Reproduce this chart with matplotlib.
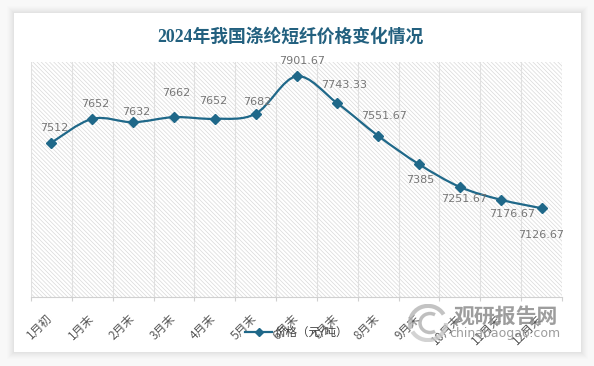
import matplotlib
matplotlib.use('Agg')
import matplotlib.pyplot as plt
from matplotlib.patches import Rectangle, PathPatch, Arc
from matplotlib.path import Path
from matplotlib.lines import Line2D
from matplotlib.transforms import ScaledTranslation
import numpy as np

plt.rcParams['font.family'] = ['Noto Sans CJK SC', 'DejaVu Sans']
plt.rcParams['hatch.linewidth'] = 0.5

# 数据
months = ['1月初', '1月末', '2月末', '3月末', '4月末', '5月末', '6月末',
          '7月末', '8月末', '9月末', '10月末', '11月末', '12月末']
price = [7512, 7652, 7632, 7662, 7652, 7682, 7901.67,
         7743.33, 7551.67, 7385, 7251.67, 7176.67, 7126.67]
label_txt = ['7512', '7652', '7632', '7662', '7652', '7682', '7901.67',
             '7743.33', '7551.67', '7385', '7251.67', '7176.67', '7126.67']
# 数据标签偏移(像素)
lab_dx = [3, 3, 3, 2, -2, 2, 6, 7, 6, 1, 4, 11, 0]
lab_dy = [15, 15, 10, 24, 18, 12, 15, 18, 20, -16, -12, -14, -27]

title = '2024年我国涤纶短纤价格变化情况'
series_name = '价格（元/吨）'
line_c = '#1f6889'
title_c = '#22607f'

W, H = 594, 366
fig = plt.figure(figsize=(W / 100, H / 100), dpi=100)
fig.patch.set_facecolor('#f8f8f8')

# 卡片 + 阴影
cx0, cy0, cx1, cy1 = 14, 13, 581, 352
for k, a in zip(range(7, 0, -1), [0.015, 0.02, 0.025, 0.03, 0.035, 0.04, 0.05]):
    fig.patches.append(Rectangle(((cx0 - k) / W, 1 - (cy1 + k) / H),
                                 (cx1 - cx0 + 2 * k) / W, (cy1 - cy0 + 2 * k) / H,
                                 transform=fig.transFigure, facecolor='#999999',
                                 edgecolor='none', alpha=a, zorder=-3))
fig.patches.append(Rectangle((cx0 / W, 1 - cy1 / H), (cx1 - cx0) / W, (cy1 - cy0) / H,
                             transform=fig.transFigure, facecolor='white',
                             edgecolor='none', zorder=-2))

# 绘图区
ax_l, ax_r, ax_t, ax_b = 31, 562, 62, 297
ax = fig.add_axes([ax_l / W, 1 - ax_b / H, (ax_r - ax_l) / W, (ax_b - ax_t) / H])
ax.set_facecolor('none')
ax.add_patch(Rectangle((0, 0), 1, 1, transform=ax.transAxes, facecolor='white',
                       edgecolor='#d9d9d9', hatch='\\' * 8, linewidth=0, zorder=0))

x = np.arange(len(price))
ax.set_xlim(-0.5, len(price) - 0.5)
ax.set_ylim(6605, 7986)

# 平滑曲线 (贝塞尔)
pts = list(zip(x, price))
verts = [pts[0]]
codes = [Path.MOVETO]
for i in range(len(pts) - 1):
    p0 = pts[i - 1] if i > 0 else pts[i]
    p1 = pts[i]
    p2 = pts[i + 1]
    p3 = pts[i + 2] if i + 2 < len(pts) else pts[i + 1]
    c1 = (p1[0] + (p2[0] - p0[0]) / 6, p1[1] + (p2[1] - p0[1]) / 6)
    c2 = (p2[0] - (p3[0] - p1[0]) / 6, p2[1] - (p3[1] - p1[1]) / 6)
    verts += [c1, c2, p2]
    codes += [Path.CURVE4] * 3
ax.add_patch(PathPatch(Path(verts, codes), facecolor='none', edgecolor=line_c,
                       linewidth=1.6, zorder=3))
ax.plot(x, price, linestyle='none', marker='D', markersize=5.5, color=line_c, zorder=4)

for i, (xi, yi) in enumerate(zip(x, price)):
    ax.annotate(label_txt[i], (xi, yi), xytext=(lab_dx[i] * 0.72, lab_dy[i] * 0.72),
                textcoords='offset points', ha='center', va='center',
                fontsize=8, color='#767676', family=['DejaVu Sans'], zorder=5)

# 坐标轴
for s in ['left', 'right', 'top']:
    ax.spines[s].set_visible(False)
ax.spines['bottom'].set_color('#d0d0d0')
ax.spines['bottom'].set_linewidth(0.8)
ax.set_yticks([])
ax.set_xticks(x)
ax.set_xticklabels(months, rotation=45, ha='right', va='top', fontsize=8.5, color='#595959')
ax.tick_params(axis='x', which='major', length=0, pad=11)
shift = ScaledTranslation(4 / 100, 0, fig.dpi_scale_trans)
for lb in ax.get_xticklabels():
    lb.set_transform(lb.get_transform() + shift)
ax.set_xticks(np.arange(-0.5, len(price), 1), minor=True)
ax.tick_params(axis='x', which='minor', length=3, color='#d0d0d0', width=0.8)
ax.grid(axis='x', which='minor', color='#e0e0e0', linewidth=0.8)
ax.set_axisbelow(True)

# 标题
fig.text(290 / W, 1 - 37 / H, title, ha='center', va='center', fontsize=12.8,
         fontweight='bold', color=title_c, family=['Liberation Serif', 'Noto Sans CJK SC'])

# 图例
h = Line2D([], [], color=line_c, linewidth=1.6, marker='D', markersize=4)
fig.legend([h], [series_name], loc='center', bbox_to_anchor=(296.5 / W, 1 - 333 / H),
           frameon=False, fontsize=8.3, handlelength=2.4, handletextpad=0.2,
           labelcolor='#404040')

# 水印
wm = '#8c8c8c'
fig.text(506 / W, 1 - 316 / H, '观研报告网', ha='center', va='center', fontsize=15,
         fontweight='bold', color=wm, alpha=0.85)
fig.text(505 / W, 1 - 333 / H, 'chinabaogao.com', ha='center', va='center', fontsize=9,
         color=wm, alpha=0.85, family=['DejaVu Sans'])
lax = fig.add_axes([408 / W, 1 - 342 / H, 40 / W, 38 / H])
lax.set_xlim(-1, 1)
lax.set_ylim(-1, 1)
lax.axis('off')
lax.add_patch(Arc((0, 0), 1.8, 1.8, theta1=30, theta2=200, color='#b5b5b5', lw=3, alpha=0.8))
lax.add_patch(Arc((0, 0), 1.8, 1.8, theta1=210, theta2=360, color='#c8c8c8', lw=3, alpha=0.8))
lax.add_patch(Arc((0.1, 0), 1.0, 1.0, theta1=60, theta2=300, color='#b0b0b0', lw=2.5, alpha=0.8))

fig.savefig('out.png', dpi=100, facecolor=fig.get_facecolor())
